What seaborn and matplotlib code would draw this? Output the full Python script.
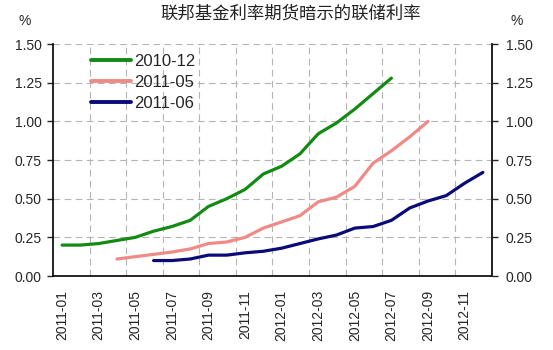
import matplotlib
matplotlib.use("Agg")
import matplotlib.pyplot as plt
import seaborn as sns
import pandas as pd
import numpy as np

months = [f"{y}-{m:02d}" for y in (2011, 2012) for m in range(1, 13)]
tick_labels = months[::2]

s_2010_12 = [0.20, 0.20, 0.21, 0.23, 0.25, 0.29, 0.32, 0.36, 0.45, 0.50,
             0.56, 0.66, 0.71, 0.79, 0.92, 0.99, 1.08, 1.18, 1.28]
s_2011_05 = [0.11, 0.125, 0.14, 0.155, 0.175, 0.21, 0.22, 0.25, 0.31, 0.35,
             0.39, 0.48, 0.51, 0.58, 0.73, 0.81, 0.90, 1.00]
s_2011_06 = [0.10, 0.10, 0.11, 0.135, 0.135, 0.15, 0.16, 0.18, 0.21, 0.24,
             0.265, 0.31, 0.32, 0.36, 0.44, 0.485, 0.52, 0.60, 0.67]
series = {"2010-12": (0, s_2010_12), "2011-05": (3, s_2011_05), "2011-06": (5, s_2011_06)}
colors = {"2010-12": "#138A13", "2011-05": "#F08A86", "2011-06": "#0A0A78"}

rows = []
for name, (start, vals) in series.items():
    for k, v in enumerate(vals):
        rows.append({"month": months[start + k], "idx": start + k, "value": v, "series": name})
df = pd.DataFrame(rows)

sns.set_style("white")
plt.rcParams['font.family'] = ['Liberation Sans', 'Noto Sans CJK SC', 'DejaVu Sans']

fig = plt.figure(figsize=(5.53, 3.5), dpi=100)
ax = fig.add_axes([0.0958, 0.2114, 0.7939, 0.6626])
sns.lineplot(data=df, x="idx", y="value", hue="series", palette=colors,
             linewidth=2.3, ax=ax, legend=True)

ax.set_xlim(-0.5, 23.5)
ax.set_ylim(0, 1.5)
yt = np.arange(0, 1.51, 0.25)
ax.set_yticks(yt)
ax.set_yticklabels([f"{v:.2f}" for v in yt], fontsize=10)
ax.set_xticks(range(0, 24, 2))
ax.set_xticklabels(tick_labels, rotation=90, fontsize=10)
ax.set_xticks(np.arange(1.5, 22, 2), minor=True)
ax.tick_params(axis='x', which='both', length=0, pad=10)
ax.tick_params(axis='y', length=4, width=1, direction='out', left=True, pad=4)
ax.grid(False)
ax.grid(True, which='minor', axis='x', color='#B4B4B4', linestyle=(0, (6, 4)), linewidth=0.8)
ax.grid(True, which='major', axis='y', color='#B4B4B4', linestyle=(0, (6, 4)), linewidth=0.8)
ax.set_axisbelow(True)
ax.set_xlabel("")
ax.set_ylabel("")
for side in ("left", "bottom", "right"):
    ax.spines[side].set_color("black")
    ax.spines[side].set_linewidth(1.2)
ax.spines["top"].set_visible(False)

ax2 = ax.twinx()
ax2.set_ylim(0, 1.5)
ax2.set_yticks(yt)
ax2.set_yticklabels([f"{v:.2f}" for v in yt], fontsize=10)
ax2.tick_params(axis='y', length=4, width=1, direction='out', right=True, pad=6)
ax2.spines["top"].set_visible(False)
ax2.spines["left"].set_visible(False)
ax2.spines["bottom"].set_visible(False)
ax2.spines["right"].set_linewidth(1.2)
ax2.grid(False)

leg = ax.legend(loc="upper left", bbox_to_anchor=(0.063, 1.0), frameon=False, fontsize=12,
                handlelength=2.4, handletextpad=0.2, labelspacing=0.35, borderaxespad=0.2)
for h in leg.get_lines():
    h.set_linewidth(2.8)

fig.text(0.045, 0.94, "%", fontsize=10, ha="center", va="center")
fig.text(0.935, 0.94, "%", fontsize=10, ha="center", va="center")
fig.text(0.525, 0.962, "联邦基金利率期货暗示的联储利率", fontsize=12.5,
         ha="center", va="center", family=['Noto Sans CJK SC', 'DejaVu Sans'], color='#222222')

fig.savefig("out.png", dpi=100)
